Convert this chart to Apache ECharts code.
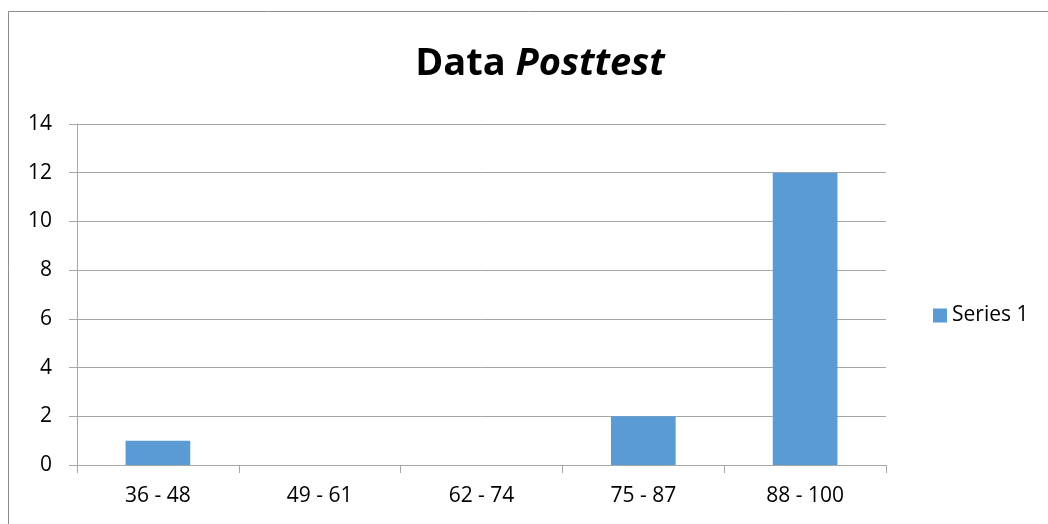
<!DOCTYPE html>
<html>
<head>
<meta charset="utf-8">
<script src="https://cdn.jsdelivr.net/npm/echarts@6/dist/echarts.min.js"></script>
<style>
  html, body { margin: 0; padding: 0; background: #fff; }
  #main { width: 1048px; height: 524px; }
</style>
</head>
<body>
<div id="main"></div>
<script>
var categories = ['36 - 48', '49 - 61', '62 - 74', '75 - 87', '88 - 100'];
var series1 = [1, 0, 0, 2, 12];
var yTicks = { min: 0, max: 14, interval: 2 };

var myChart = echarts.init(document.getElementById('main'));
var font = '"Open Sans", sans-serif';
var axisColor = '#a6a6a6';

var option = {
    animation: false,
    textStyle: { fontFamily: font },
    // chart border
    graphic: [{
        type: 'rect',
        shape: { x: 8.5, y: 11.5, width: 1100, height: 600 },
        style: { fill: 'none', stroke: '#8c8c8c', lineWidth: 1 }
    }],
    title: {
        text: '{a|Data }{b|Posttest}',
        left: 535,
        textAlign: 'center',
        top: 40,
        textStyle: {
            rich: {
                a: { fontFamily: font, fontSize: 38, fontWeight: 'bold', color: '#000' },
                b: { fontFamily: font, fontSize: 38, fontWeight: 'bold', fontStyle: 'italic', color: '#000' }
            }
        }
    },
    legend: {
        data: ['Series 1'],
        left: 928,
        top: 300,
        orient: 'vertical',
        itemWidth: 14,
        itemHeight: 14,
        itemGap: 8,
        icon: 'rect',
        textStyle: { fontFamily: font, fontSize: 21, color: '#000' }
    },
    grid: { left: 77, right: 162, top: 124, bottom: 59 },
    xAxis: {
        type: 'category',
        data: categories,
        axisLine: { lineStyle: { color: axisColor } },
        axisTick: { show: true, length: 8, lineStyle: { color: axisColor } },
        axisLabel: { color: '#000', fontSize: 21, margin: 21, fontFamily: font }
    },
    yAxis: {
        type: 'value',
        min: yTicks.min,
        max: yTicks.max,
        interval: yTicks.interval,
        axisLine: { show: true, lineStyle: { color: axisColor } },
        axisTick: { show: true, length: 8, lineStyle: { color: axisColor } },
        splitLine: { lineStyle: { color: axisColor } },
        axisLabel: { color: '#000', fontSize: 21, margin: 25, fontFamily: font }
    },
    series: [{
        name: 'Series 1',
        type: 'bar',
        data: series1,
        barWidth: '40%',
        itemStyle: { color: '#5b9bd5' }
    }]
};
myChart.setOption(option);
</script>
</body>
</html>
